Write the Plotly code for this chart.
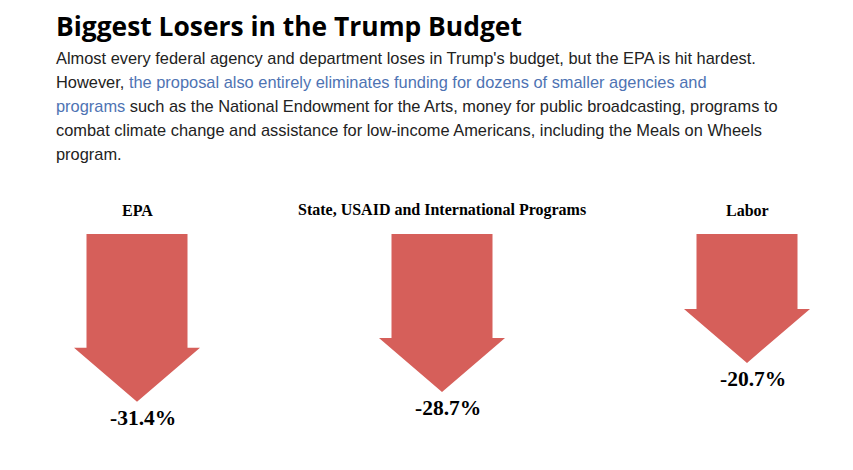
import plotly.graph_objects as go

# data
agencies = ["EPA", "State, USAID and International Programs", "Labor"]
changes = [-31.4, -28.7, -20.7]

title = "Biggest Losers in the Trump Budget"
sub_lines = [
    "Almost every federal agency and department loses in Trump's budget, but the EPA is hit hardest.",
    "However, <span style='color:#4e73b3'>the proposal also entirely eliminates funding for dozens of smaller agencies and</span>",
    "<span style='color:#4e73b3'>programs</span> such as the National Endowment for the Arts, money for public broadcasting, programs to",
    "combat climate change and assistance for low-income Americans, including the Meals on Wheels",
    "program.",
]

W, H = 853, 470
PAD = 8  # body margin of the html page
RED = "#d65f5a"

# arrow geometry (pixels)
x0, dx = 137, 305
top = 234
shaft_half = 50.5
head_half = 63
head_h = 54
px_per_pct = 3.62

fig = go.Figure()

for i, (name, val) in enumerate(zip(agencies, changes)):
    cx = x0 + dx * i
    neck = top + abs(val) * px_per_pct
    tip = neck + head_h
    xs = [cx - shaft_half, cx + shaft_half, cx + shaft_half, cx + head_half,
          cx, cx - head_half, cx - shaft_half, cx - shaft_half]
    ys = [top, top, neck, neck, tip, neck, neck, top]
    fig.add_trace(go.Scatter(x=xs, y=ys, mode="lines", fill="toself",
                             fillcolor=RED, line=dict(color=RED, width=0),
                             hoverinfo="skip", showlegend=False))
    fig.add_annotation(x=cx, y=210, text=f"<b>{name}</b>", showarrow=False,
                       xanchor="center", yanchor="middle",
                       font=dict(family="Liberation Serif", size=16, color="#000"))
    # value label sits a little right of the tip, as in the original
    fig.add_annotation(x=cx + 6, y=tip + 16, text=f"<b>{val:.1f}%</b>", showarrow=False,
                       xanchor="center", yanchor="middle",
                       font=dict(family="Liberation Serif", size=21.5, color="#000"))

fig.add_annotation(x=54, y=26, text=f"<b>{title}</b>", showarrow=False,
                   xanchor="left", yanchor="middle",
                   font=dict(family="Open Sans", size=26.4, color="#000"))

for j, line in enumerate(sub_lines):
    fig.add_annotation(x=54, y=58 + 24 * j, text=line, showarrow=False,
                       xanchor="left", yanchor="middle",
                       font=dict(family="Liberation Sans", size=16.4, color="#222"))

fig.update_layout(
    width=W, height=H,
    margin=dict(l=0, r=0, t=0, b=0),
    paper_bgcolor="white", plot_bgcolor="white",
    xaxis=dict(range=[PAD, W + PAD], visible=False, fixedrange=True),
    yaxis=dict(range=[H + PAD, PAD], visible=False, fixedrange=True),
)

fig.write_html("out.html")
